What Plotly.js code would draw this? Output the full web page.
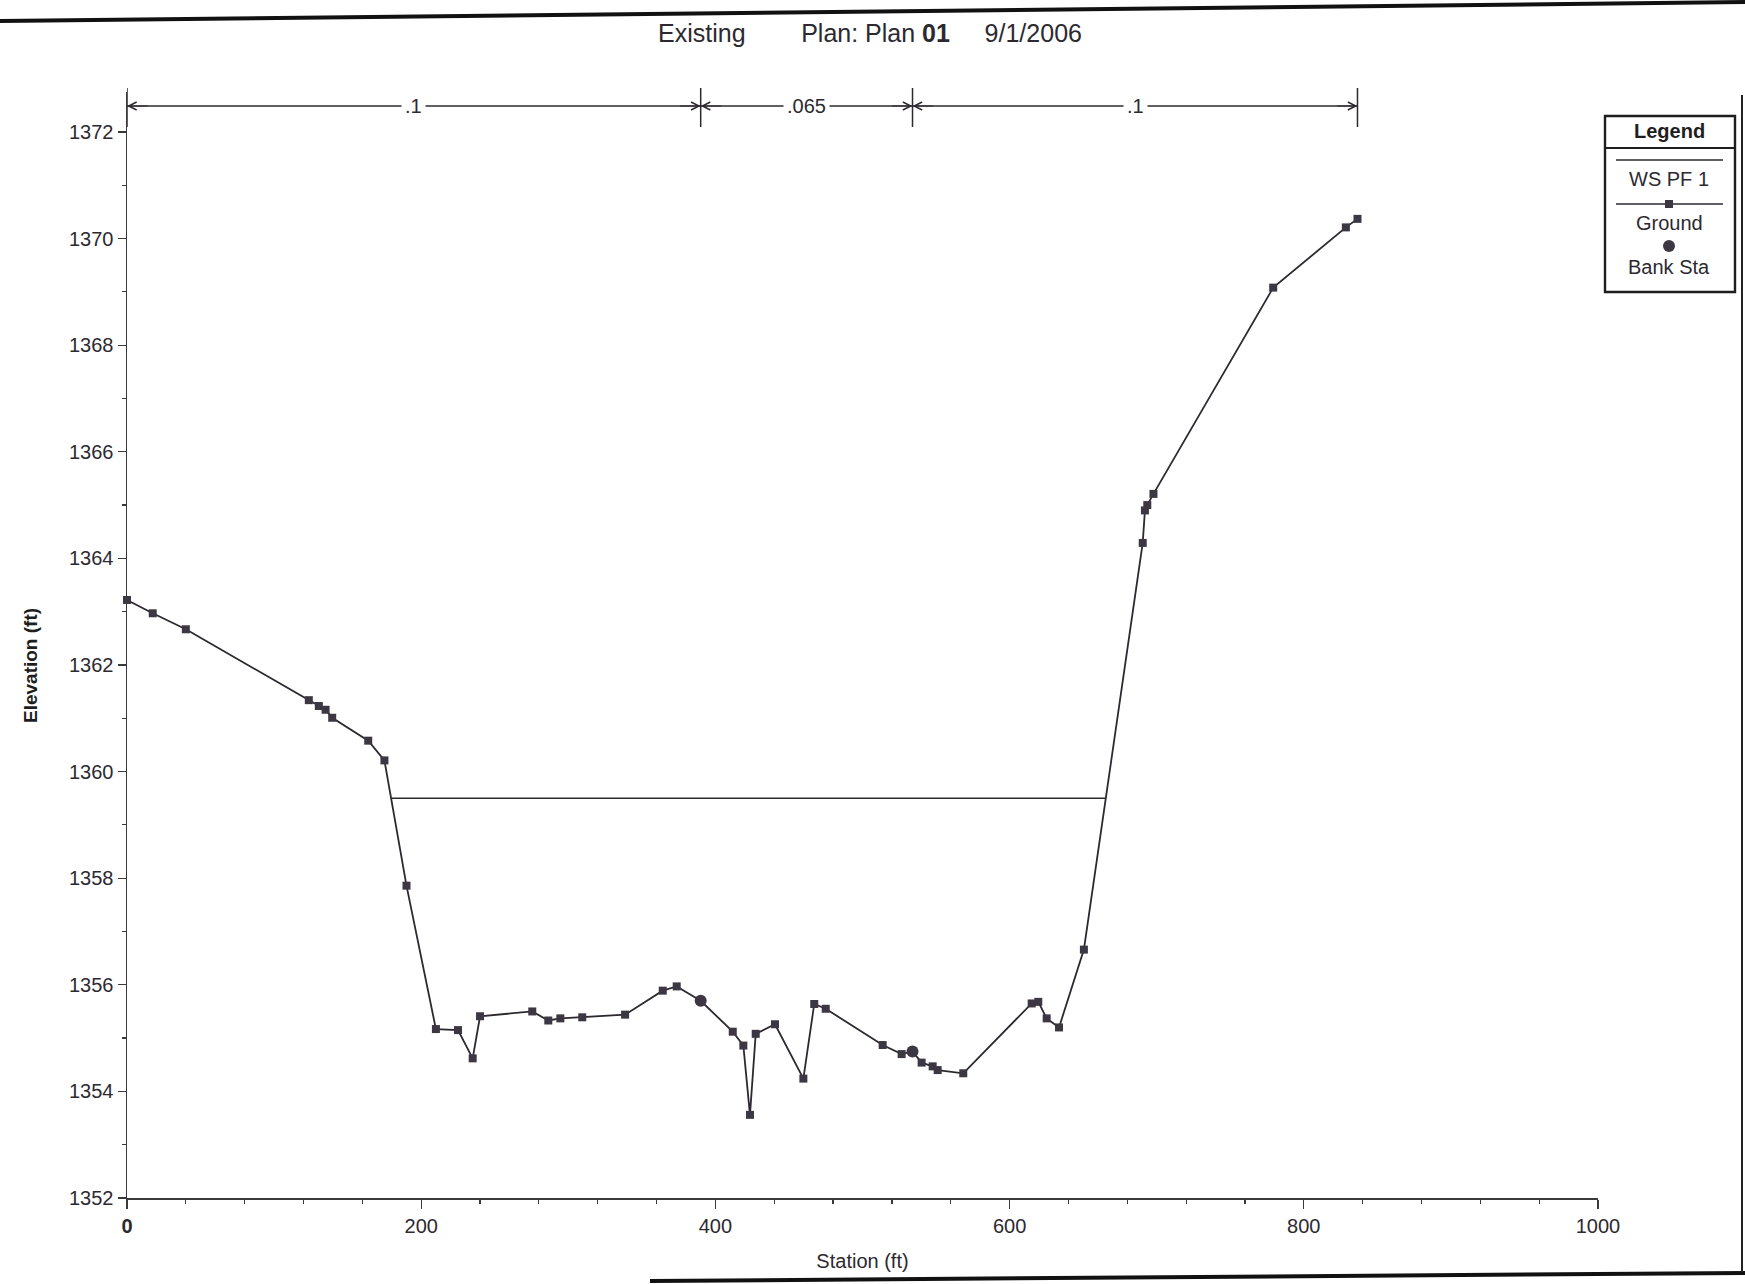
<!DOCTYPE html>
<html><head><meta charset="utf-8">
<script src="https://cdn.plot.ly/plotly-3.0.1.min.js"></script>
<style>html,body{margin:0;padding:0;background:#fff}#chart{width:1745px;height:1284px}</style>
</head><body><div id="chart"></div>
<script>
// ---- data ----
const station = [0, 17.5, 40, 123.6, 130.4, 135, 139.5, 164, 175, 190, 210, 225, 235, 240,
  275.5, 286.4, 294.6, 309.5, 338.6, 364.2, 373.7, 390, 411.8, 419, 423.5, 427.4, 440.5,
  459.8, 467.2, 475, 513.7, 526.6, 534, 540.2, 547.7, 551.1, 568.5, 615, 619.5, 625.2,
  633.6, 650.5, 690.5, 692.0, 693.6, 697.8, 779.2, 828.6, 836.5];
const elevation = [1363.22, 1362.97, 1362.67, 1361.34, 1361.23, 1361.16, 1361.01, 1360.58,
  1360.21, 1357.86, 1355.17, 1355.15, 1354.62, 1355.41, 1355.50, 1355.33, 1355.37, 1355.39,
  1355.44, 1355.89, 1355.97, 1355.70, 1355.12, 1354.86, 1353.56, 1355.08, 1355.26, 1354.24,
  1355.64, 1355.55, 1354.87, 1354.70, 1354.75, 1354.54, 1354.47, 1354.40, 1354.34, 1355.65,
  1355.68, 1355.37, 1355.20, 1356.66, 1364.29, 1364.90, 1365.00, 1365.21, 1369.08, 1370.21,
  1370.37];
const bankStation = [390, 534];
const bankElevation = [1355.70, 1354.75];
const wsStation = [179.8, 665.4];
const wsElevation = [1359.5, 1359.5];
const nValues = ['.1', '.065', '.1'];
const xTickVals = [0, 200, 400, 600, 800, 1000];
const xTickText = ['<b>0</b>', '200', '400', '600', '800', '1000'];
const legendLabels = ['WS PF 1', 'Ground', 'Bank Sta'];

// ---- styling ----
const FONT = 'Liberation Sans, Arial, Helvetica, sans-serif';
const INK = '#2d2930';
const MARK = '#3d3743';
const AX = '#3a3a3a';
const W = 1745, H = 1284, L = 127, R = 147, T = 92, B = 86;
const pw = W - L - R, ph = H - T - B;
const px = x => (x - L) / pw;      // page pixel -> paper
const py = y => (H - B - y) / ph;
const nb = n => '\u00a0'.repeat(n);

const traces = [
  {x: wsStation, y: wsElevation, mode: 'lines', name: legendLabels[0],
   line: {color: INK, width: 1.5}, hoverinfo: 'skip'},
  {x: station, y: elevation, mode: 'lines+markers', name: legendLabels[1], cliponaxis: false,
   line: {color: INK, width: 1.8}, marker: {symbol: 'square', size: 8, color: MARK}},
  {x: bankStation, y: bankElevation, mode: 'markers', name: legendLabels[2], cliponaxis: false,
   marker: {symbol: 'circle', size: 12, color: MARK}}
];

// roughness (Manning's n) bands from ground ends and bank stations
const bounds = [station[0], bankStation[0], bankStation[1], station[station.length - 1]];
const yN = py(106);
const shapes = [];
const annotations = [];
bounds.forEach(b => shapes.push({type: 'line', xref: 'x', yref: 'paper', x0: b, x1: b,
  y0: py(127), y1: py(88), line: {color: INK, width: 1.5}}));
for (let i = 0; i < nValues.length; i++) {
  const a = bounds[i], b = bounds[i + 1];
  shapes.push({type: 'line', xref: 'x', yref: 'paper', x0: a, x1: b, y0: yN, y1: yN,
    line: {color: INK, width: 1.3}});
  annotations.push({xref: 'x', yref: 'paper', x: a, y: yN, text: '', showarrow: true,
    ax: 22, ay: 0, arrowhead: 5, arrowsize: 1.3, arrowwidth: 1.2, arrowcolor: INK, standoff: 0});
  annotations.push({xref: 'x', yref: 'paper', x: b, y: yN, text: '', showarrow: true,
    ax: -22, ay: 0, arrowhead: 5, arrowsize: 1.3, arrowwidth: 1.2, arrowcolor: INK, standoff: 0});
}
for (let i = 0; i < nValues.length; i++) {
  annotations.push({xref: 'x', yref: 'paper', x: (bounds[i] + bounds[i + 1]) / 2, y: yN,
    xanchor: 'center', yanchor: 'middle',
    text: nValues[i], showarrow: false, bgcolor: '#ffffff', borderpad: 3,
    font: {family: FONT, size: 20, color: INK}});
}

// legend box (HEC-RAS style: symbol above label)
const lx0 = px(1605), lx1 = px(1735), lxc = px(1669);
shapes.push({type: 'rect', xref: 'paper', yref: 'paper', x0: lx0, x1: lx1, y0: py(292), y1: py(116),
  line: {color: '#1e1e1e', width: 2.4}, fillcolor: '#fff'});
shapes.push({type: 'line', xref: 'paper', yref: 'paper', x0: lx0, x1: lx1, y0: py(148), y1: py(148),
  line: {color: '#1e1e1e', width: 2}});
shapes.push({type: 'line', xref: 'paper', yref: 'paper', x0: px(1616), x1: px(1723), y0: py(160), y1: py(160),
  line: {color: INK, width: 1.5}});
shapes.push({type: 'line', xref: 'paper', yref: 'paper', x0: px(1616), x1: px(1723), y0: py(204), y1: py(204),
  line: {color: INK, width: 1.5}});
shapes.push({type: 'rect', xref: 'paper', yref: 'paper', x0: px(1665), x1: px(1673), y0: py(208), y1: py(200),
  line: {color: MARK, width: 0}, fillcolor: MARK});
shapes.push({type: 'circle', xref: 'paper', yref: 'paper', x0: px(1663), x1: px(1675), y0: py(252), y1: py(240),
  line: {color: MARK, width: 0}, fillcolor: MARK});
annotations.push({xref: 'paper', yref: 'paper', x: lxc, y: py(131), xanchor: 'center', yanchor: 'middle',
  text: '<b>Legend</b>', showarrow: false, font: {family: FONT, size: 20, color: '#1e1e1e'}});
[179, 223, 267].forEach((yy, i) => annotations.push({xref: 'paper', yref: 'paper', x: lxc, y: py(yy),
  xanchor: 'center', yanchor: 'middle',
  text: legendLabels[i], showarrow: false, font: {family: FONT, size: 20, color: INK}}));

// y-axis title placed like the reference
annotations.push({xref: 'paper', yref: 'paper', x: px(30), y: py(666), xanchor: 'center', yanchor: 'middle',
  textangle: -90, text: '<b>Elevation (ft)</b>', showarrow: false,
  font: {family: FONT, size: 19, color: '#1e1e1e'}});

// scanned page edges
shapes.push({type: 'line', xref: 'paper', yref: 'paper', x0: px(0), x1: px(1745), y0: py(21), y1: py(2),
  line: {color: '#111', width: 4}});
shapes.push({type: 'line', xref: 'paper', yref: 'paper', x0: px(650), x1: px(1745), y0: py(1281), y1: py(1273),
  line: {color: '#111', width: 4}});
shapes.push({type: 'line', xref: 'paper', yref: 'paper', x0: px(1742), x1: px(1742), y0: py(95), y1: py(1272),
  line: {color: '#222', width: 2}});

const layout = {
  width: W, height: H, margin: {l: L, r: R, t: T, b: B},
  paper_bgcolor: '#fff', plot_bgcolor: '#fff', showlegend: false,
  font: {family: FONT, size: 20, color: INK},
  title: {text: 'Existing' + nb(8) + 'Plan: Plan <b>01</b>' + nb(5) + '9/1/2006',
    xref: 'container', yref: 'container', x: 870 / W, y: 1 - 33 / H,
    xanchor: 'center', yanchor: 'middle', font: {family: FONT, size: 25, color: INK}},
  xaxis: {range: [0, 1000], showline: true, linecolor: AX, linewidth: 1.5, mirror: false,
    ticks: 'outside', ticklen: 9, tickwidth: 1.3, tickcolor: AX,
    tickmode: 'array', tickvals: xTickVals, ticktext: xTickText,
    minor: {ticks: 'outside', ticklen: 4, tickwidth: 1.2, tickcolor: AX, tickmode: 'linear', tick0: 0, dtick: 40},
    showgrid: false, zeroline: false, tickfont: {family: FONT, size: 20, color: INK},
    title: {text: 'Station (ft)', standoff: 18, font: {family: FONT, size: 20, color: INK}}},
  yaxis: {range: [1352, 1372.75], showline: true, linecolor: AX, linewidth: 1.5,
    ticks: 'outside', ticklen: 8, tickwidth: 1.3, tickcolor: AX, tick0: 1352, dtick: 2,
    minor: {ticks: 'outside', ticklen: 4, tickwidth: 1.2, tickcolor: AX, tick0: 1352, dtick: 1},
    showgrid: false, zeroline: false, tickfont: {family: FONT, size: 20, color: INK}},
  shapes: shapes, annotations: annotations
};
Plotly.newPlot('chart', traces, layout, {displayModeBar: false, staticPlot: true});
</script></body></html>
